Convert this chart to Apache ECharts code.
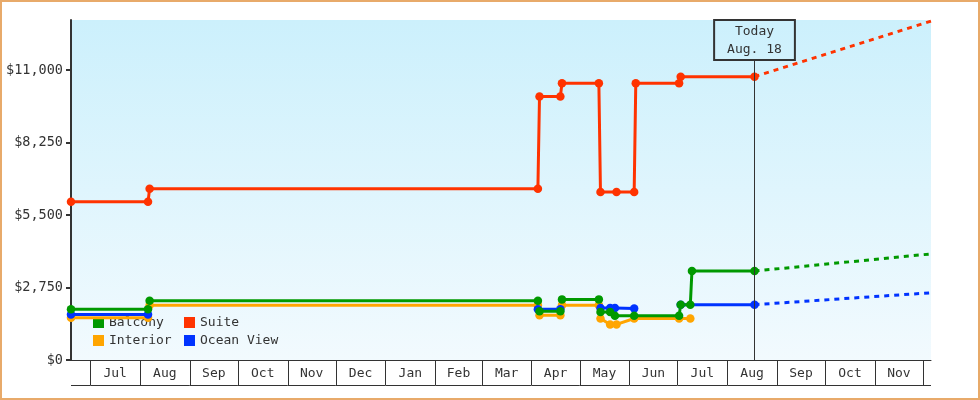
<!DOCTYPE html>
<html>
<head>
<meta charset="utf-8">
<script src="https://cdn.jsdelivr.net/npm/echarts@6.0.0/dist/echarts.min.js"></script>
<style>
  html, body { margin: 0; padding: 0; background: #fff; }
  #wrap { position: relative; width: 980px; height: 400px; }
  #chart { width: 980px; height: 400px; }
  #frame { position: absolute; left: 0; top: 0; width: 980px; height: 400px; box-sizing: border-box; border: 2px solid #e8aa6a; pointer-events: none; }
</style>
</head>
<body>
<div id="wrap"><div id="chart"></div><div id="frame"></div></div>
<script>
// ---- data ----
const suiteDates  = ['2023-06-19','2023-08-06','2023-08-07','2024-04-05','2024-04-06','2024-04-19','2024-04-20','2024-05-13','2024-05-14','2024-05-24','2024-06-04','2024-06-05','2024-07-02','2024-07-03','2024-08-18'];
const suiteValues = [6000, 6000, 6500, 6500, 10000, 10000, 10500, 10500, 6375, 6375, 6375, 10500, 10500, 10750, 10750];

const balconyDates  = ['2023-06-19','2023-08-06','2023-08-07','2024-04-05','2024-04-06','2024-04-19','2024-04-20','2024-05-13','2024-05-14','2024-05-20','2024-05-23','2024-06-04','2024-07-02','2024-07-03','2024-07-09','2024-07-10','2024-08-18'];
const balconyValues = [1925, 1925, 2250, 2250, 1850, 1850, 2300, 2300, 1825, 1825, 1675, 1675, 1675, 2100, 2100, 3375, 3375];

const interiorDates  = ['2023-06-19','2023-08-06','2023-08-07','2024-04-05','2024-04-06','2024-04-19','2024-04-20','2024-05-13','2024-05-14','2024-05-20','2024-05-24','2024-06-04','2024-07-02','2024-07-09'];
const interiorValues = [1600, 1600, 2075, 2075, 1700, 1700, 2075, 2075, 1575, 1350, 1350, 1575, 1575, 1575];

const oceanDates  = ['2023-06-19','2023-08-06','2023-08-07','2024-04-05','2024-04-19','2024-04-20','2024-05-14','2024-05-20','2024-05-23','2024-06-04','2024-06-05','2024-07-03','2024-08-18'];
const oceanValues = [1725, 1725, null, 1925, 1925, null, 1975, 1975, 1975, 1950, null, 2100, 2100];

const forecastDates   = ['2024-08-18','2024-12-06'];
const suiteForecast   = [10750, 12860];
const balconyForecast = [3375, 4025];
const oceanForecast   = [2100, 2550];

const monthLabels = ['Jun','Jul','Aug','Sep','Oct','Nov','Dec','Jan','Feb','Mar','Apr','May','Jun','Jul','Aug','Sep','Oct','Nov','Dec'];
const monthStarts = ['2023-06-01','2023-07-01','2023-08-01','2023-09-01','2023-10-01','2023-11-01','2023-12-01','2024-01-01','2024-02-01','2024-03-01','2024-04-01','2024-05-01','2024-06-01','2024-07-01','2024-08-01','2024-09-01','2024-10-01','2024-11-01','2024-12-01','2025-01-01'];

const yTicks = [0, 2750, 5500, 8250, 11000];
const todayDate = '2024-08-18';
const todayLabel = 'Today\nAug. 18';
const todayBoxValue = 11380;
const xStart = '2023-06-19';
const xEnd = '2024-12-06';
const yMax = 12900;

// ---- helpers ----
function ms(s) { const p = s.split('-').map(Number); return new Date(p[0], p[1] - 1, p[2]).getTime(); }
function pairs(dates, values) { return dates.map((d, i) => [ms(d), values[i] == null ? '-' : values[i]]); }

const FONT = '"DejaVu Sans Mono", monospace';
const TXT = '#333';
const C = { Balcony: '#009900', Suite: '#ff3300', Interior: '#ffa500', 'Ocean View': '#0033ff' };
const xMin = ms(xStart), xMax = ms(xEnd);

function lineSeries(name, dates, values, extra) {
  return Object.assign({
    name, type: 'line', data: pairs(dates, values), connectNulls: false,
    symbol: 'circle', symbolSize: 8.5, showSymbol: true,
    lineStyle: { color: C[name], width: 3 }, itemStyle: { color: C[name] },
    emphasis: { disabled: true }, z: 3
  }, extra || {});
}
function forecastSeries(name, values) {
  return {
    name: name + ' forecast', type: 'line', data: pairs(forecastDates, values),
    symbol: 'none', lineStyle: { color: C[name], width: 3, type: [5, 5] },
    itemStyle: { color: C[name] }, emphasis: { disabled: true }, z: 3
  };
}

const monthData = monthLabels.map((l, i) => [ms(monthStarts[i]), ms(monthStarts[i + 1]), 0]);

const chart = echarts.init(document.getElementById('chart'), null, { renderer: 'canvas' });
chart.setOption({
  animation: false,
  textStyle: { fontFamily: FONT },
  grid: {
    left: 71, right: 49, top: 20, bottom: 40, show: true, borderWidth: 0,
    backgroundColor: new echarts.graphic.LinearGradient(0, 0, 0, 1, [
      { offset: 0, color: '#ccf0fc' }, { offset: 1, color: '#f2fafe' }
    ])
  },
  legend: [
    { data: ['Balcony', 'Interior'], orient: 'vertical', left: 93, top: 316, padding: 0, itemGap: 5,
      itemWidth: 11, itemHeight: 11, icon: 'rect', z: 1,
      textStyle: { fontFamily: FONT, fontSize: 13, color: TXT } },
    { data: ['Suite', 'Ocean View'], orient: 'vertical', left: 184, top: 316, padding: 0, itemGap: 5,
      itemWidth: 11, itemHeight: 11, icon: 'rect', z: 1,
      textStyle: { fontFamily: FONT, fontSize: 13, color: TXT } }
  ],
  xAxis: {
    type: 'time', min: xMin, max: xMax,
    axisLine: { show: true, lineStyle: { color: '#333', width: 1 } },
    axisTick: { show: false }, axisLabel: { show: false }, splitLine: { show: false }
  },
  yAxis: {
    type: 'value', min: 0, max: yMax,
    axisLine: { show: true, lineStyle: { color: '#333', width: 2 } },
    axisTick: { show: true, length: 5, lineStyle: { color: '#333', width: 2 }, customValues: yTicks },
    axisLabel: { margin: 8, color: TXT, fontFamily: FONT, fontSize: 13.5, customValues: yTicks,
      formatter: v => '$' + Number(v).toLocaleString('en-US') },
    splitLine: { show: false }
  },
  series: [
    lineSeries('Interior', interiorDates, interiorValues),
    lineSeries('Ocean View', oceanDates, oceanValues),
    lineSeries('Balcony', balconyDates, balconyValues),
    lineSeries('Suite', suiteDates, suiteValues, {
      markLine: {
        silent: true, symbol: ['none', 'none'], animation: false,
        lineStyle: { color: '#333', width: 1, type: 'solid' },
        label: { show: true, position: 'end', distance: 0, formatter: todayLabel,
          color: TXT, fontFamily: FONT, fontSize: 13, lineHeight: 18,
          borderColor: '#333', borderWidth: 1, padding: [3, 13, 1, 13], backgroundColor: 'transparent' },
        data: [[{ coord: [ms(todayDate), 0] }, { coord: [ms(todayDate), todayBoxValue] }]]
      }
    }),
    forecastSeries('Suite', suiteForecast),
    forecastSeries('Balcony', balconyForecast),
    forecastSeries('Ocean View', oceanForecast),
    {
      name: 'months', type: 'custom', silent: true, clip: false, z: 5,
      data: monthData, encode: { x: [0, 1], y: 2 },
      renderItem: function (params, api) {
        const s = api.value(0), e = api.value(1);
        const cs = Math.max(s, xMin), ce = Math.min(e, xMax);
        if (ce <= cs) return { type: 'group', children: [] };
        const p0 = api.coord([cs, 0]), p1 = api.coord([ce, 0]);
        const y0 = p0[1], h = 25;
        const ch = [];
        if (s >= xMin) ch.push({ type: 'line', shape: { x1: Math.round(p0[0]) + 0.5, y1: y0, x2: Math.round(p0[0]) + 0.5, y2: y0 + h }, style: { stroke: '#333', lineWidth: 1 } });
        ch.push({ type: 'line', shape: { x1: p0[0], y1: Math.round(y0 + h) + 0.5, x2: p1[0], y2: Math.round(y0 + h) + 0.5 }, style: { stroke: '#333', lineWidth: 1 } });
        if (p1[0] - p0[0] > 30) ch.push({ type: 'text', style: { text: monthLabels[params.dataIndex], x: (p0[0] + p1[0]) / 2, y: y0 + h / 2 + 1, align: 'center', verticalAlign: 'middle', font: '13px ' + FONT, fill: TXT } });
        return { type: 'group', children: ch };
      }
    }
  ]
});
</script>
</body>
</html>
